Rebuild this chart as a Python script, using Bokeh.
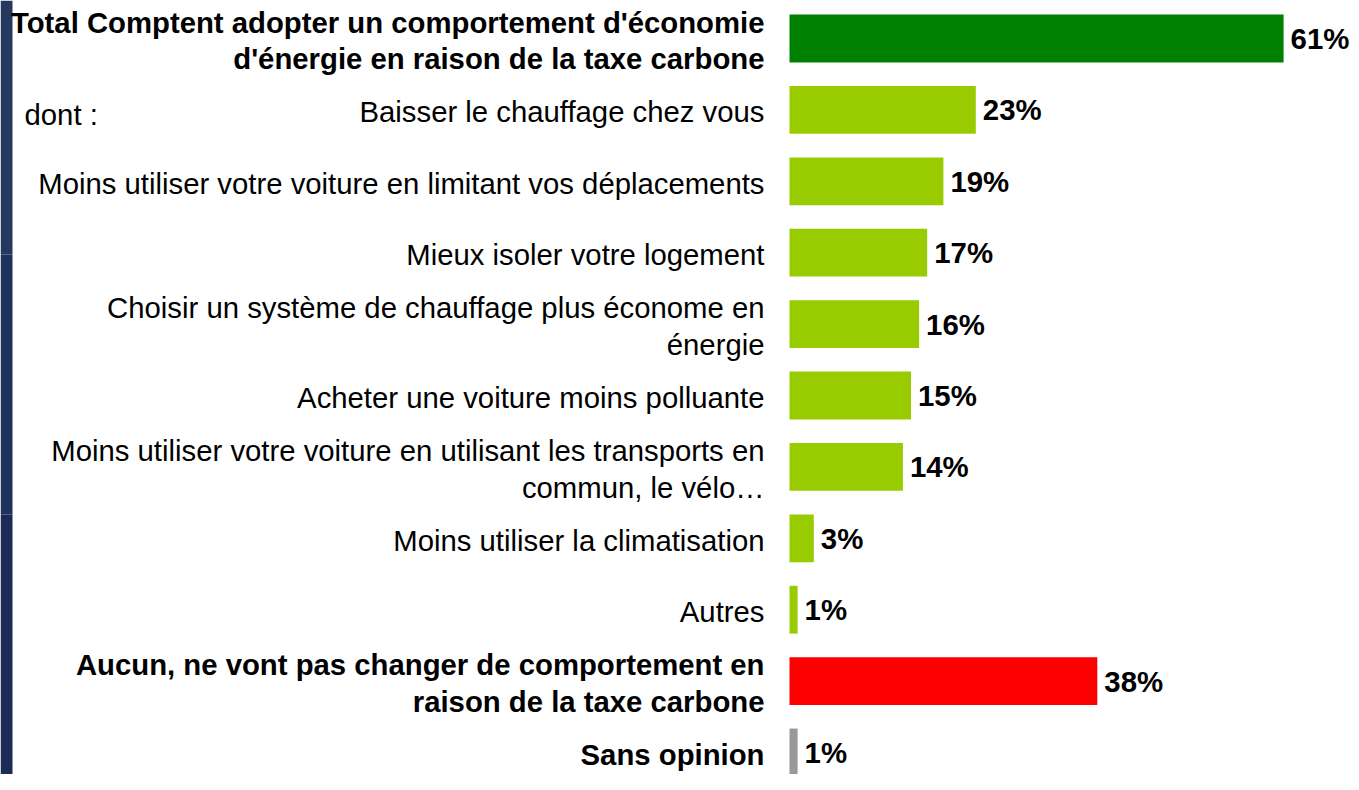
from bokeh.plotting import figure
from bokeh.models import ColumnDataSource, Range1d, Label, BoxAnnotation
from bokeh.core.properties import value
from bokeh.embed import file_html
from bokeh.resources import INLINE

categories = [
    "Total Comptent adopter un comportement d'économie\nd'énergie en raison de la taxe carbone",
    "Baisser le chauffage chez vous",
    "Moins utiliser votre voiture en limitant vos déplacements",
    "Mieux isoler votre logement",
    "Choisir un système de chauffage plus économe en\nénergie",
    "Acheter une voiture moins polluante",
    "Moins utiliser votre voiture en utilisant les transports en\ncommun, le vélo…",
    "Moins utiliser la climatisation",
    "Autres",
    "Aucun, ne vont pas changer de comportement en\nraison de la taxe carbone",
    "Sans opinion",
]
values = [61, 23, 19, 17, 16, 15, 14, 3, 1, 38, 1]
colors = ["#008000", "#99CC00", "#99CC00", "#99CC00", "#99CC00", "#99CC00",
          "#99CC00", "#99CC00", "#99CC00", "#FF0000", "#999999"]
styles = ["bold", "normal", "normal", "normal", "normal", "normal",
          "normal", "normal", "normal", "bold", "bold"]
pct_labels = [f"{v}%" for v in values]
sub_label = "dont :"

W, H = 1351, 774
bar_start_px = 789
px_per_pct = 8.1
px_per_cat = 71.4
top_offset_px = 38.0

x_start = -bar_start_px / px_per_pct
x_end = (W - bar_start_px) / px_per_pct
y_top = -top_offset_px / px_per_cat
y_bottom = y_top + H / px_per_cat

ypos = list(range(len(categories)))
src = ColumnDataSource(dict(y=ypos, v=values, c=colors, cat=categories,
                            st=styles, lab=pct_labels, zero=[0] * len(values)))

p = figure(width=W, height=H, output_backend="svg", toolbar_location=None,
           x_axis_type=None, y_axis_type=None,
           x_range=Range1d(x_start, x_end), y_range=Range1d(y_bottom, y_top),
           min_border=0, min_border_left=0, min_border_right=0,
           min_border_top=0, min_border_bottom=0)
p.outline_line_color = None
p.grid.visible = False
p.background_fill_color = "white"
p.border_fill_color = "white"

# left navy strip (decoration)
for top, bottom, col in [(0, 260, "#1b2b55"), (260, 520, "#1f325c"), (520, 774, "#25385e")]:
    p.add_layout(BoxAnnotation(left=0, right=12, top=top, bottom=bottom,
                               left_units="screen", right_units="screen",
                               top_units="screen", bottom_units="screen",
                               fill_color=col, fill_alpha=1.0, line_color=None,
                               level="underlay"))

p.hbar(y="y", left="zero", right="v", height=0.67, fill_color="c",
       line_color=None, source=src)

p.text(x="v", y="y", text="lab", source=src, x_offset=7,
       text_font=value("Liberation Sans"), text_font_size=value("29.4px"),
       text_font_style="bold", text_color="black",
       text_align="left", text_baseline="middle")

p.text(x="zero", y="y", text="cat", source=src, x_offset=-25, y_offset=2,
       text_font=value("Liberation Sans"), text_font_size=value("29.3px"),
       text_font_style="st", text_color="black", text_line_height=1.12,
       text_align="right", text_baseline="middle")

p.add_layout(Label(x=24, y=1, x_units="screen", text=sub_label, y_offset=-5,
                   text_font="Liberation Sans", text_font_size="29.3px",
                   text_color="black", text_align="left",
                   text_baseline="middle"))

open("out.html", "w").write(file_html(p, INLINE))
